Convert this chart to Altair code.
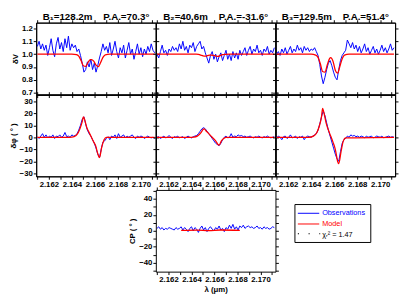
import altair as alt
import pandas as pd

FONT = "Liberation Sans"
BLUE = "#0000ff"
RED = "#ff0000"

# ---------------- data ----------------
# observed spectral channels (micron): start 2.1610, step 0.00015, 69 channels
lam = [round(2.1610 + 0.00015 * i, 5) for i in range(69)]

titles = ["B\u2081=128.2m\u00a0\u00a0\u00a0\u00a0P.A.=70.3\u00b0",
          "B\u2082=40.6m\u00a0\u00a0\u00a0\u00a0P.A.=-31.6\u00b0",
          "B\u2083=129.5m\u00a0\u00a0\u00a0\u00a0P.A.=51.4\u00b0"]

# differential visibility, observations
dv1 = [1.06, 1.10, 1.04, 1.08, 1.03, 1.07, 0.99, 1.05, 1.12, 1.03, 0.98, 1.08, 1.13, 1.04, 1.09,
       1.02, 1.12, 1.05, 1.14, 1.03, 1.08, 1.05, 1.07, 1.02, 1.04,
       0.99, 0.93, 0.86, 0.88, 0.94, 0.90, 0.96, 0.88, 0.93, 0.86, 0.91, 0.97, 1.02, 1.08, 1.03,
       1.06, 1.01, 1.09, 0.99, 1.04, 1.10, 1.02, 0.97, 1.05, 1.01, 1.07, 0.97, 1.03, 1.09, 1.00,
       1.04, 0.96, 1.02, 1.08, 1.00, 1.05, 0.98, 1.04, 1.00, 1.06, 1.02, 1.08, 1.03, 1.01]
dv2 = [1.00, 0.97, 1.02, 1.07, 1.01, 1.03, 0.99, 1.04, 1.02, 1.06, 1.03, 1.05, 1.02, 1.08, 1.04,
       1.10, 1.03, 1.06, 1.01, 1.07, 1.05, 1.09, 1.02, 1.06, 1.08, 1.10, 1.04, 1.06, 1.01, 0.97,
       0.93, 0.99, 1.02, 0.96, 1.00, 0.94, 0.98, 1.01, 0.95, 0.99, 1.03, 0.96, 1.00, 0.95, 1.02,
       0.97, 1.01, 0.96, 1.03, 0.99,
       1.02, 1.05, 0.99, 1.03, 1.06, 1.00, 1.04, 1.02, 1.07, 1.01, 1.03, 0.99, 1.04, 1.02, 1.06,
       1.00, 1.03, 1.01, 1.05]
dv3 = [1.00, 1.02, 0.99, 1.04, 1.01, 1.05, 1.00, 1.03, 1.06, 1.01, 1.04, 1.02, 1.07, 1.03, 1.05,
       1.01, 1.06, 1.03, 1.05, 1.02, 1.04, 1.03, 1.05, 1.02,
       0.99, 0.92, 0.83, 0.77, 0.82, 0.88, 0.93, 0.95, 0.91, 0.86, 0.82, 0.80, 0.88, 0.95, 0.99, 1.01,
       1.03, 1.11, 1.08, 1.05, 1.09, 1.04, 1.07, 1.02, 1.06, 1.01, 1.04, 1.08, 1.02, 1.05, 1.00,
       1.03, 1.06, 1.01, 1.04, 1.00, 1.03, 1.07, 1.02, 1.05, 1.01, 1.04, 1.08, 1.03, 1.05]

# differential phase, observations (deg)
dp1 = [0.5, -1, 1, 3, 0, 2, -0.5, 1, 0, 2, -1, 1, 0.5, 2, 0, 1, 4, 0.5, 1, 0, 2, 1,
       1.5, 3, 6, 10, 15, 17, 11, 6, 3, 1, -2, -5, -9, -14, -17, -10, -4, -3, -1,
       0.5, -2, 1, 0, 2, -1, 3, 0, 1, 2, -0.5, 1, 0, 1, 2, 0, -1, 1, 0, 1, 0.5, -1, 0, 1, 0,
       -0.5, 0, -1]
dp2 = [0, 0.5, -1, 0, 1, -0.5, 0, 1.5, 0, -1, 0.5, 0, 1, -0.5, 0, 0.5, -1, 0, 1, 0, -0.5, 0.5, 1,
       1.5, 3, 5, 7, 8, 7, 5, 3, 1, -1, -3, -5, -6, -7, -5, -2, 0,
       1, -0.5, 0, 3, 0, 1, 0.5, 2, 1, 1.5, 0.5, 1, 0, 0.5, 1, 0, -0.5, 0.5, 0, 1, 0, -0.5, 0.5,
       0, 1, 0, -0.5, 0, 0.5]
dp3 = [-0.5, 1, 0, -2, 0.5, 1, -1, 0, 2, -0.5, 0, 1, -1, 0.5, 0, 1, -2, 0, 1, 0.5, 0, 1,
       2, 3, 6, 11, 17, 22, 18, 12, 6, 1, -4, -9, -14, -18, -20, -12, -5, -2, -1,
       1, 0, 2, 1, 1.5, 0.5, 1, 0, 1, 0.5, -0.5, 1, 0, 0.5, 1, -0.5, 0, 1, 0.5, 0, 1, -0.5, 0,
       0.5, 1, 0, 0.5, 0]

# closure phase, observations (deg)
cp = [3, 5, 2, 4, 1, 3, 2, 4, 3, 2, 1, 4, 2, 3, 5, 1, 4, 2, -1, 3, 5, 0, 4, 2, -2, 3, 6, 1, 4, -1,
      3, 5, 2, 0, 4, 2, 6, 1, 3, -1, 4, 2, 7, 3, 8, 2, 5, 1, 6, 4, 7, 3, 5, 6, 4, 5, 3, 4, 6, 3,
      4, 2, 5, 3, 4, 2, 3, 5, 4]

# model curves
mlam_v = [2.1610, 2.1640, 2.1644, 2.1646, 2.1648, 2.1650, 2.1652, 2.1654, 2.1656, 2.1657,
          2.1659, 2.1661, 2.1663, 2.1665, 2.1667, 2.1669, 2.1673, 2.1712]
mv1 = [1.0, 1.0, 0.997, 0.985, 0.95, 0.91, 0.905, 0.935, 0.957, 0.958, 0.945, 0.915, 0.903,
       0.935, 0.975, 0.995, 1.0, 1.0]
mv2 = [1.0, 1.0, 1.0, 0.998, 0.993, 0.986, 0.984, 0.988, 0.992, 0.992, 0.99, 0.986, 0.983,
       0.989, 0.996, 0.999, 1.0, 1.0]
mv3 = [1.0, 1.0, 0.992, 0.975, 0.925, 0.865, 0.86, 0.915, 0.965, 0.972, 0.945, 0.875, 0.852,
       0.905, 0.965, 0.993, 1.0, 1.0]

mlam_p = [2.1610, 2.1638, 2.1642, 2.1645, 2.1647, 2.1649, 2.1650, 2.1651, 2.1653, 2.1655,
          2.1657, 2.1659, 2.1661, 2.1662, 2.1663, 2.1664, 2.1666, 2.1668, 2.1670, 2.1712]
mp1 = [0, 0, 0.5, 3, 7, 13, 17, 15, 8, 4, 0, -4, -8, -12, -15, -17, -8, -2, 0, 0]
mp2 = [0, 0, 0.2, 1, 2.5, 5, 6.5, 7, 5, 3, 1, -1, -3, -4.5, -6, -6.5, -3, -1, 0, 0]
mp3 = [0, 0, 1, 4, 9, 17, 24, 21, 12, 6, 1, -4, -10, -15, -20, -22, -12, -3, -0.5, 0]

mlam_cp = [2.1631, 2.1645, 2.1655, 2.1665, 2.1682]
mcp = [0.5, 0.8, 0.3, 1.0, 0.6]

leg_labels = ["Observations", "Model", "\u03c7\u1d63\u00b2 = 1.47"]

# ---------------- axes ----------------
XDOM = [2.1609, 2.1713]
XT = [2.161, 2.162, 2.163, 2.164, 2.165, 2.166, 2.167, 2.168, 2.169, 2.170, 2.171]
XLAB = "abs(round(datum.value*1000) % 2) < 0.5 ? format(datum.value, '.3f') : ''"
V_T = [0.7, 0.8, 0.9, 1.0, 1.1, 1.2]
P_T = [-30, -20, -10, 0, 10, 20, 30]
C_T = [-50, -40, -30, -20, -10, 0, 10, 20, 30, 40, 50]
C_LAB = "abs(datum.value % 20) < 0.5 ? format(datum.value, 'd') : ''"

W = 123
H1, H2 = 74, 84
GAP = 14          # gap above the closure-phase frame
H3 = 84 + GAP     # height of the bottom grid row


def panel(oy, mx, my, ydom, yvals, w, h, ylabexpr=None, ytitle=None, ylabels=False,
          xlabels=False, xtitle=None, title=None, top=0):
    dfo = pd.DataFrame({"lam": lam, "v": oy})
    dfm = pd.DataFrame({"lam": mx, "v": my})
    xs = alt.Scale(domain=XDOM, nice=False, zero=False)
    if top:
        ys = alt.Scale(domain=ydom, nice=False, zero=False, range=[h, top])
    else:
        ys = alt.Scale(domain=ydom, nice=False, zero=False)
    yax = dict(values=yvals, labels=ylabels, title=ytitle, orient="left")
    if ylabexpr:
        yax["labelExpr"] = ylabexpr
    topax = dict(values=XT, labels=False, title=None, orient="top")
    if top:
        topax["offset"] = -top
    obs = alt.Chart(dfo).mark_line(color=BLUE, strokeWidth=1, clip=True).encode(
        x=alt.X("lam:Q", scale=xs,
                axis=alt.Axis(values=XT, labels=xlabels, labelExpr=XLAB, title=xtitle,
                              orient="bottom")),
        y=alt.Y("v:Q", scale=ys, axis=alt.Axis(**yax)))
    mod = alt.Chart(dfm).mark_line(color=RED, strokeWidth=1.3, interpolate="monotone",
                                   clip=True).encode(
        x=alt.X("lam:Q", scale=xs, axis=None),
        y=alt.Y("v:Q", scale=ys, axis=None))
    mir = alt.Chart(dfm).mark_line(opacity=0).encode(
        x=alt.X("lam:Q", scale=xs, axis=alt.Axis(**topax)),
        y=alt.Y("v:Q", scale=ys, axis=alt.Axis(values=yvals, labels=False, title=None,
                                                orient="right")))
    ch = alt.layer(obs, mod, mir).resolve_axis(x="independent", y="independent") \
        .properties(width=w, height=h)
    if top:
        ch = ch.properties(view=alt.ViewBackground(stroke=None))
    if title:
        ch = ch.properties(title=alt.TitleParams(text=title, fontSize=10, fontWeight="bold",
                                                 font=FONT, color="black", offset=-3,
                                                 anchor="middle"))
    return ch


VD = [0.685, 1.245]
PD = [-32.5, 35.5]
CD = [-51, 51]

p11 = panel(dv1, mlam_v, mv1, VD, V_T, W, H1, ylabexpr="format(datum.value, '.1f')",
            ytitle="\u03b4V", ylabels=True, title=titles[0])
p12 = panel(dv2, mlam_v, mv2, VD, V_T, W, H1, title=titles[1])
p13 = panel(dv3, mlam_v, mv3, VD, V_T, W, H1, title=titles[2])

p21 = panel(dp1, mlam_p, mp1, PD, P_T, W, H2, ytitle="\u03b4\u03c6 ( \u00b0 )", ylabels=True,
            xlabels=True)
p22 = panel(dp2, mlam_p, mp2, PD, P_T, W, H2, xlabels=True)
p23 = panel(dp3, mlam_p, mp3, PD, P_T, W, H2, xlabels=True)

one = pd.DataFrame({"k": [0]})
spacer = alt.Chart(one).mark_point(opacity=0).encode(
    x=alt.value(0), y=alt.value(0)).properties(width=W, height=H3,
                                              view=alt.ViewBackground(stroke=None))

p32 = panel(cp, mlam_cp, mcp, CD, C_T, W, H3, ylabexpr=C_LAB, ytitle="CP ( \u00b0 )",
            ylabels=True, xlabels=True, xtitle="\u03bb (\u03bcm)", top=GAP)

# legend box (drawn as its own small panel, pixel layout)
LX0, LX1 = 20, 98
LY0 = 29
box = alt.Chart(one).mark_rect(fill="white", stroke="black", strokeWidth=1).encode(
    x=alt.value(LX0), x2=alt.value(LX1), y=alt.value(LY0), y2=alt.value(LY0 + 39))
l_obs = alt.Chart(one).mark_rule(color=BLUE, strokeWidth=1).encode(
    x=alt.value(LX0 + 3), x2=alt.value(LX0 + 25), y=alt.value(LY0 + 9))
l_mod = alt.Chart(one).mark_rule(color=RED, strokeWidth=1).encode(
    x=alt.value(LX0 + 3), x2=alt.value(LX0 + 25), y=alt.value(LY0 + 20))
l_chi = alt.Chart(one).mark_rule(color="black", strokeWidth=1.2, strokeDash=[1.2, 9.8]).encode(
    x=alt.value(LX0 + 3), x2=alt.value(LX0 + 26), y=alt.value(LY0 + 30))
t_obs = alt.Chart(one).mark_text(text=leg_labels[0], color=BLUE, font=FONT, fontSize=7.5,
                                 align="left", baseline="middle").encode(
    x=alt.value(LX0 + 28), y=alt.value(LY0 + 9))
t_mod = alt.Chart(one).mark_text(text=leg_labels[1], color=RED, font=FONT, fontSize=7.5,
                                 align="left", baseline="middle").encode(
    x=alt.value(LX0 + 28), y=alt.value(LY0 + 20))
t_chi = alt.Chart(one).mark_text(text=leg_labels[2], color="black", font=FONT, fontSize=7.5,
                                 align="left", baseline="middle").encode(
    x=alt.value(LX0 + 28), y=alt.value(LY0 + 31))
legend = alt.layer(box, l_obs, l_mod, l_chi, t_obs, t_mod, t_chi).properties(
    width=W, height=H3, view=alt.ViewBackground(stroke=None))

chart = alt.concat(p11, p12, p13, p21, p22, p23, spacer, p32, legend,
                   columns=3, spacing=0, bounds="flush").properties(padding=0).configure_view(
    stroke="black", strokeWidth=1
).configure_axis(
    labelFont=FONT, labelFontWeight="bold", labelFontSize=8, labelColor="black",
    tickColor="black", domainColor="black", tickSize=3, tickWidth=1,
    titleFont=FONT, titleFontSize=8, titleFontWeight="bold", titleColor="black",
    labelPadding=1, titlePadding=2, grid=False
)

chart.save("out.html", embed_options={"renderer": "svg", "actions": False})
